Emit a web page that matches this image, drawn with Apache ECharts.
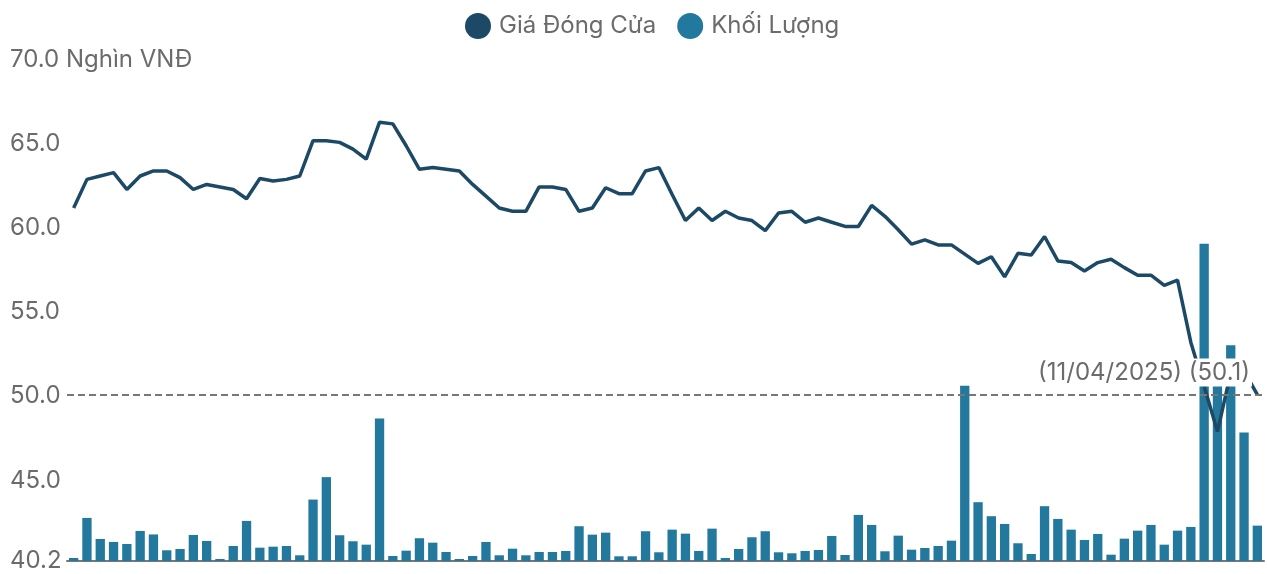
<!DOCTYPE html>
<html>
<head>
<meta charset="utf-8">
<script src="https://cdn.jsdelivr.net/npm/echarts@6/dist/echarts.min.js"></script>
<style>
html,body{margin:0;padding:0;background:#fff;}
#main{width:1267px;height:574px;}
</style>
</head>
<body>
<div id="main"></div>
<script>
// ngày giao dịch (28/11/2024 -> 11/04/2025)
var dates = [
'28/11/2024','29/11/2024',
'02/12/2024','03/12/2024','04/12/2024','05/12/2024','06/12/2024','09/12/2024','10/12/2024','11/12/2024','12/12/2024','13/12/2024',
'16/12/2024','17/12/2024','18/12/2024','19/12/2024','20/12/2024','23/12/2024','24/12/2024','25/12/2024','26/12/2024','27/12/2024','30/12/2024','31/12/2024',
'02/01/2025','03/01/2025','06/01/2025','07/01/2025','08/01/2025','09/01/2025','10/01/2025','13/01/2025','14/01/2025','15/01/2025','16/01/2025','17/01/2025',
'20/01/2025','21/01/2025','22/01/2025','23/01/2025','24/01/2025',
'03/02/2025','04/02/2025','05/02/2025','06/02/2025','07/02/2025','10/02/2025','11/02/2025','12/02/2025','13/02/2025','14/02/2025',
'17/02/2025','18/02/2025','19/02/2025','20/02/2025','21/02/2025','24/02/2025','25/02/2025','26/02/2025','27/02/2025','28/02/2025',
'03/03/2025','04/03/2025','05/03/2025','06/03/2025','07/03/2025','10/03/2025','11/03/2025','12/03/2025','13/03/2025','14/03/2025',
'17/03/2025','18/03/2025','19/03/2025','20/03/2025','21/03/2025','24/03/2025','25/03/2025','26/03/2025','27/03/2025','28/03/2025','31/03/2025',
'01/04/2025','02/04/2025','03/04/2025','04/04/2025','08/04/2025','09/04/2025','10/04/2025','11/04/2025'
];

// giá đóng cửa (nghìn VNĐ)
var closePrice = [
61.2,62.9,63.1,63.3,62.3,63.1,63.4,63.4,63.0,62.3,
62.6,62.45,62.3,61.75,62.95,62.8,62.9,63.1,65.2,65.2,
65.1,64.7,64.1,66.3,66.2,64.9,63.5,63.6,63.5,63.4,
62.6,61.9,61.2,61.0,61.0,62.45,62.45,62.3,61.0,61.2,
62.4,62.05,62.05,63.4,63.6,62.0,60.45,61.2,60.45,61.0,
60.6,60.45,59.85,60.9,61.0,60.35,60.6,60.35,60.1,60.1,
61.35,60.7,59.9,59.05,59.3,59.0,59.0,58.45,57.9,58.3,
57.1,58.5,58.4,59.5,58.05,57.95,57.45,57.95,58.15,57.65,
57.2,57.2,56.6,56.9,53.2,50.6,47.9,51.4,51.5,50.1
];

// khối lượng
var volume = [
30,430,220,190,170,300,265,107,120,260,
200,20,150,400,133,143,150,57,613,837,
257,197,163,1423,50,103,227,183,90,20,
50,190,57,123,57,90,90,100,347,263,
283,47,47,297,87,313,273,100,323,30,
120,237,297,87,77,100,110,250,60,460,
360,97,253,113,130,150,203,1750,587,447,
370,177,70,547,420,313,210,270,63,223,
303,360,163,303,340,3165,1900,2153,1283,353
];

var legendNames = ['Giá Đóng Cửa', 'Khối Lượng'];
var priceMin = 40.2, priceMax = 70.0;
var unitText = 'Nghìn VNĐ';

var lastIdx = closePrice.length - 1;
var lastPrice = closePrice[lastIdx];
var lastDate = dates[lastIdx];

var myChart = echarts.init(document.getElementById('main'));
var FONT = 'Inter, Roboto, sans-serif';
var option = {
    backgroundColor: '#fff',
    animation: false,
    textStyle: {fontFamily: FONT},
    legend: {
        data: legendNames,
        top: 8,
        left: 460,
        icon: 'circle',
        itemWidth: 26,
        itemHeight: 26,
        itemGap: 21,
        textStyle: {fontSize: 24, color: '#6b6b6b', fontFamily: FONT, padding: [0, 0, 0, 3]}
    },
    grid: {left: 67, right: 3, top: 60, bottom: 13},
    xAxis: {
        type: 'category',
        data: dates,
        axisLine: {lineStyle: {color: '#777', width: 2}},
        axisTick: {show: false},
        axisLabel: {show: false}
    },
    yAxis: [{
        type: 'value',
        min: priceMin,
        max: priceMax,
        splitLine: {show: false},
        axisLine: {show: false},
        axisTick: {show: false},
        axisLabel: {
            align: 'left',
            margin: 57,
            fontSize: 24,
            color: '#6b6b6b',
            fontFamily: FONT,
            formatter: function (v) {
                if (v === priceMax) return v.toFixed(1) + ' ' + unitText;
                return v.toFixed(1);
            }
        }
    }, {
        type: 'value',
        show: false,
        min: 0,
        max: 5000,
        splitLine: {show: false}
    }],
    series: [
        {
            name: 'Khối Lượng',
            type: 'bar',
            yAxisIndex: 1,
            data: volume,
            barCategoryGap: '30%',
            itemStyle: {color: '#23789d'},
            z: 2
        },
        {
            name: 'Giá Đóng Cửa',
            type: 'line',
            data: closePrice,
            showSymbol: false,
            symbol: 'none',
            lineStyle: {color: '#1c4966', width: 3.5},
            itemStyle: {color: '#1c4966'},
            z: 3
        },
        {
            // đường tham chiếu giá cuối
            name: 'ref',
            type: 'line',
            data: [],
            z: 5,
            markLine: {
                silent: true,
                symbol: 'none',
                lineStyle: {color: '#777', type: [7, 4], width: 2},
                label: {
                    position: 'insideEndTop',
                    formatter: '(' + lastDate + ') (' + lastPrice.toFixed(1) + ')',
                    fontSize: 24,
                    color: '#6b6b6b',
                    fontFamily: FONT,
                    backgroundColor: '#fff',
                    padding: [2, 2],
                    distance: [12, 8]
                },
                data: [{yAxis: lastPrice}]
            }
        }
    ]
};
myChart.setOption(option);
</script>
</body>
</html>
